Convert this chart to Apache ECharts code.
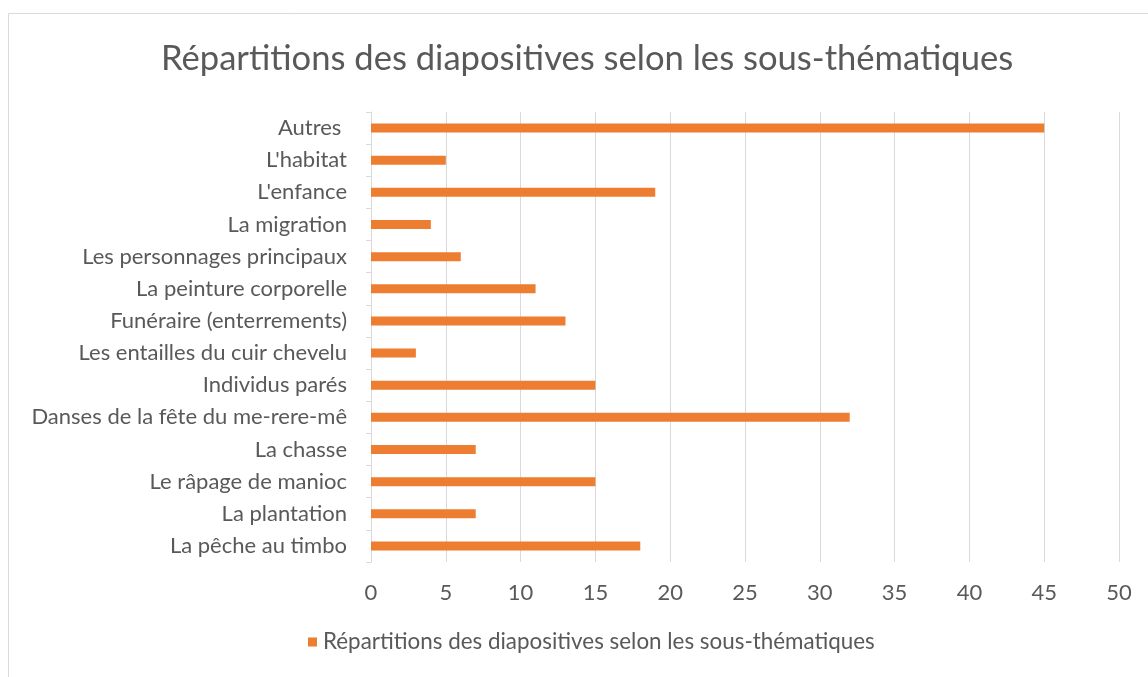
<!DOCTYPE html>
<html><head><meta charset="utf-8">
<script src="https://cdn.jsdelivr.net/npm/echarts@6/dist/echarts.min.js"></script>
<style>html,body{margin:0;padding:0;background:#fff}#c{width:1148px;height:677px}</style>
</head><body><div id="c"></div>
<script>
const categories = ["La pêche au timbo","La plantation","Le râpage de manioc","La chasse","Danses de la fête du me-rere-mê","Individus parés","Les entailles du cuir chevelu","Funéraire (enterrements)","La peinture corporelle","Les personnages principaux","La migration","L'enfance","L'habitat","Autres "];
const values = [18,7,15,7,32,15,3,13,11,6,4,19,5,45];
const seriesName = "Répartitions des diapositives selon les sous-thématiques";
const titleText = "Répartitions des diapositives selon les sous-thématiques";
const FONT = "Lato";
const chart = echarts.init(document.getElementById('c'));
chart.setOption({
  animation:false,
  textStyle:{fontFamily:FONT},
  graphic:[{type:'rect',shape:{x:8.5,y:13.5,width:1200,height:700},style:{fill:'none',stroke:'#d9d9d9',lineWidth:1},silent:true,z:-1}],
  title:{text:titleText,left:156,top:36,textStyle:{fontFamily:FONT,fontSize:34.6,fontWeight:'normal',color:'#595959'}},
  legend:{bottom:19,left:303,itemWidth:9,itemHeight:9,itemGap:6,icon:'rect',textStyle:{fontFamily:FONT,fontSize:22.4,color:'#595959',padding:[0,0,0,1]}},
  grid:{left:371,right:29,top:112,bottom:115,containLabel:false},
  xAxis:{type:'value',min:0,max:50,interval:5,
    axisLine:{show:false},axisTick:{show:false},
    splitLine:{lineStyle:{color:'#d9d9d9',width:1}},
    axisLabel:{color:'#595959',fontSize:22,fontFamily:FONT,margin:20}},
  yAxis:{type:'category',data:categories,
    axisLine:{lineStyle:{color:'#d9d9d9'}},
    axisTick:{show:true,length:5,lineStyle:{color:'#d9d9d9'}},
    axisLabel:{color:'#595959',fontSize:22,fontFamily:FONT,margin:24}},
  series:[{name:seriesName,type:'bar',data:values,barWidth:9,itemStyle:{color:'#ed7d31'}}]
});
</script></body></html>
